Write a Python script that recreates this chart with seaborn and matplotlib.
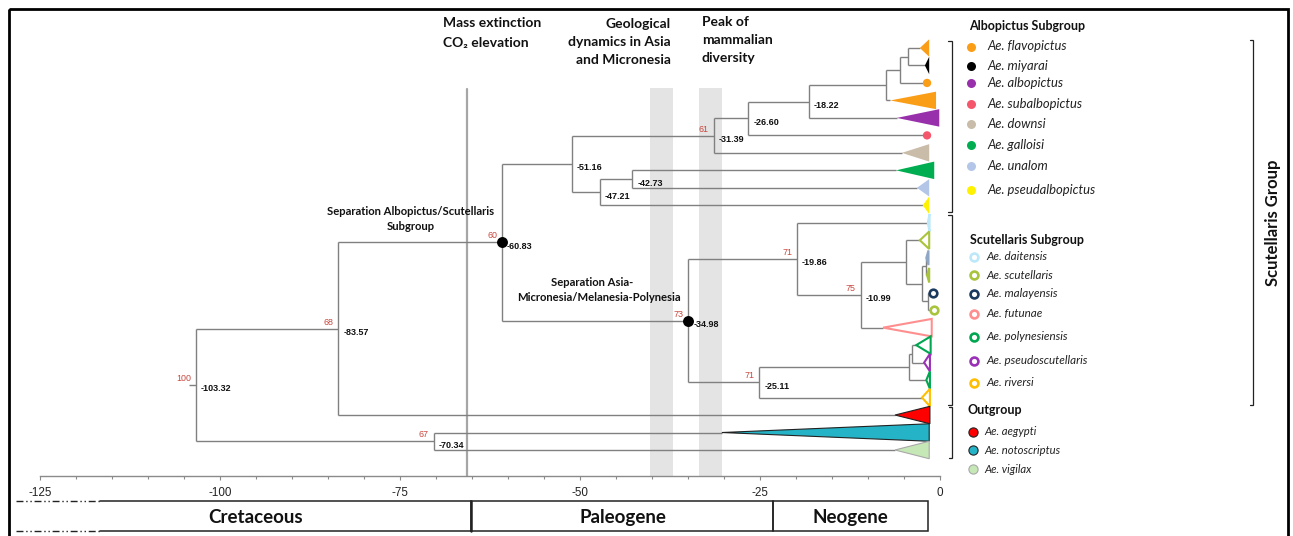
import matplotlib
matplotlib.use("Agg")
import matplotlib.pyplot as plt
import matplotlib.transforms as mtransforms
from matplotlib.patches import Polygon, Rectangle
from matplotlib.collections import LineCollection
from matplotlib.ticker import MultipleLocator
import seaborn as sns
import pandas as pd

# ---------------- data ----------------
leaf_species = ["flavopictus", "miyarai", "flavopictus", "flavopictus", "albopictus",
                "subalbopictus", "downsi", "galloisi", "unalom", "pseudalbopictus",
                "daitensis", "scutellaris", "malayensis_light", "scutellaris", "malayensis",
                "scutellaris", "futunae", "polynesiensis", "pseudoscutellaris", "polynesiensis",
                "riversi", "aegypti", "notoscriptus", "vigilax"]
leaf_shape = ["tri", "tri", "dot", "tri", "tri", "dot", "tri", "tri", "tri", "tri",
              "open", "open", "open", "open", "ring", "ring", "open", "open", "open", "open",
              "open", "tri", "tri", "tri"]
leaf_apex = [-2.8, -2.1, -1.8, -6.9, -6.0, -1.8, -5.3, -6.1, -3.2, -2.4,
             -1.7, -2.8, -1.9, -1.8, -1.0, -0.8, -7.9, -3.3, -2.2, -1.9,
             -2.5, -6.25, -30.3, -6.25]
leaf_base = [-1.5, -1.5, -1.8, -0.55, -0.1, -1.8, -1.5, -0.8, -1.5, -1.5,
             -1.45, -1.5, -1.6, -1.5, -1.0, -0.8, -1.15, -1.3, -1.4, -1.4,
             -1.4, -1.4, -1.5, -1.5]

node_name = ["n1", "n2", "n3", "n4", "n5", "n6", "n7", "n8", "n9",
             "s1", "s2", "s3", "s4", "s5", "s6", "p1", "p2", "p3", "s7",
             "a", "o1", "b", "root"]
node_age = [-4.4, -5.5, -7.5, -18.22, -26.60, -31.39, -42.73, -47.21, -51.16,
            -2.0, -1.7, -2.5, -4.7, -10.99, -19.86, -3.9, -4.3, -25.11, -34.98,
            -60.83, -70.34, -83.57, -103.32]
node_child1 = [0, "n1", "n2", "n3", "n4", "n5", 7, "n7", "n6",
               12, 14, "s1", 11, "s4", 10, 17, "p1", "p2", "s6",
               "n9", 22, "a", "b"]
node_child2 = [1, 2, 3, 4, 5, 6, 8, 9, "n8",
               13, 15, "s2", "s3", 16, "s5", 18, 19, 20, "p3",
               "s7", 23, 21, "o1"]
labelled_nodes = ["root", "b", "o1", "a", "n9", "n8", "n7", "n6", "n5", "n4",
                  "s7", "s6", "s5", "p3"]
bootstrap_nodes = ["root", "b", "o1", "a", "n6", "s7", "s6", "s5", "p3"]
bootstrap_vals = [100, 68, 67, 60, 61, 73, 71, 75, 71]
highlight_nodes = ["a", "s7"]

x_ticks = [-125, -100, -75, -50, -25, 0]
event_line = -65.7
event_bands = [(-40.3, -37.1), (-33.5, -30.3)]
periods = ["Cretaceous", "Paleogene", "Neogene"]
period_edges = [-116.7, -65.2, -23.2, -1.7]

albo_species = ["flavopictus", "miyarai", "albopictus", "subalbopictus", "downsi",
                "galloisi", "unalom", "pseudalbopictus"]
scut_species = ["daitensis", "scutellaris", "malayensis", "futunae", "polynesiensis",
                "pseudoscutellaris", "riversi"]
out_species = ["aegypti", "notoscriptus", "vigilax"]

# ---------------- style ----------------
colors = {"flavopictus": "#FA9D17", "miyarai": "#000000", "albopictus": "#9830AB",
          "subalbopictus": "#F4566B", "downsi": "#C9BCA8", "galloisi": "#00AD50",
          "unalom": "#B3C6E8", "pseudalbopictus": "#FFF200", "daitensis": "#BDE8FA",
          "scutellaris": "#A8C33C", "malayensis": "#1B3A5F", "malayensis_light": "#8FA6C4",
          "futunae": "#FF8F8F", "polynesiensis": "#00A650", "pseudoscutellaris": "#9B30B8",
          "riversi": "#FFBF00", "aegypti": "#FF0000", "notoscriptus": "#25B4C7",
          "vigilax": "#C6E8B7"}
edge_colors = {"aegypti": "#222222", "notoscriptus": "#222222", "vigilax": "#A8A8A8"}

sns.set_theme(style="white")
plt.rcParams['font.family'] = ['Lato', 'DejaVu Sans']
plt.rcParams['axes.unicode_minus'] = False

W, H = 1293, 536
fig = plt.figure(figsize=(W / 100, H / 100), dpi=100, facecolor="white")

# main tree axes: bottom spine is the time axis
ax = fig.add_axes([40 / W, (H - 476) / H, 900 / W, (476 - 8) / H])
ax.set_xlim(-125, 0)
ax.set_ylim(24.488, -2.2886)
ax.set_facecolor("none")
for s in ["left", "right", "top"]:
    ax.spines[s].set_visible(False)
ax.spines["bottom"].set_color("#8a8a8a")
ax.spines["bottom"].set_linewidth(1.0)
ax.set_xticks(x_ticks)
ax.xaxis.set_minor_locator(MultipleLocator(5))
ax.set_yticks([])
ax.tick_params(axis="x", which="both", direction="out", color="#8a8a8a", width=0.8,
               bottom=True)
ax.tick_params(axis="x", which="major", length=3, pad=5, labelsize=8.4, labelcolor="#222222")
ax.tick_params(axis="x", which="minor", length=2.5)
for lab in ax.get_xticklabels():
    lab.set_fontfamily("Liberation Sans")

# overlay axes in pixel coordinates
ov = fig.add_axes([0, 0, 1, 1])
ov.set_xlim(0, W)
ov.set_ylim(H, 0)
ov.axis("off")
blend = mtransforms.blended_transform_factory(ax.transData, ov.transData)

# ---- node positions ----
pos = {}
def get(c):
    if isinstance(c, int):
        return leaf_apex[c], float(c)
    return pos[c]
for nm, age, c1, c2 in zip(node_name, node_age, node_child1, node_child2):
    pos[nm] = (age, (get(c1)[1] + get(c2)[1]) / 2)

segs = []
for nm, age, c1, c2 in zip(node_name, node_age, node_child1, node_child2):
    y1, y2 = get(c1)[1], get(c2)[1]
    segs.append([(age, y1), (age, y2)])
    for c in (c1, c2):
        cx, cy = get(c)
        segs.append([(age, cy), (cx, cy)])
rx, ry = pos["root"]
segs.append([(rx - 1.0, ry), (rx, ry)])
ax.add_collection(LineCollection(segs, colors="#808080", linewidths=1.0, zorder=2,
                                 clip_on=False))

# ---- event line and bands ----
for a0, a1 in event_bands:
    ov.add_patch(Rectangle((a0, 88), a1 - a0, 476 - 88, transform=blend,
                           facecolor="#E4E4E4", edgecolor="none", zorder=0))
ov.plot([event_line, event_line], [89, 476], transform=blend, color="#A6A6A6", lw=1.6,
        zorder=1)
ov.set_zorder(0)
ax.set_zorder(1)

# ---- leaves ----
for i, (sp, shp, ap, bs) in enumerate(zip(leaf_species, leaf_shape, leaf_apex, leaf_base)):
    col = colors[sp]
    half = 0.42 if i in (12, 13) else 0.5
    verts = [(ap, i), (bs, i - half), (bs, i + half)]
    if shp == "tri":
        ec = edge_colors.get(sp, "none")
        ax.add_patch(Polygon(verts, closed=True, facecolor=col, edgecolor=ec,
                             lw=0.8 if ec != "none" else 0, zorder=3, clip_on=False,
                             joinstyle="miter"))
    elif shp == "open":
        ax.add_patch(Polygon(verts, closed=True, facecolor="white" if i not in (10, 12, 13) else "none",
                             edgecolor=col, lw=1.5, zorder=3, clip_on=False))

dot_df = pd.DataFrame({"t": [leaf_apex[i] for i in range(24) if leaf_shape[i] == "dot"],
                       "y": [i for i in range(24) if leaf_shape[i] == "dot"],
                       "sp": [leaf_species[i] for i in range(24) if leaf_shape[i] == "dot"]})
sns.scatterplot(data=dot_df, x="t", y="y", hue="sp", palette=colors, s=36, linewidth=0,
                legend=False, ax=ax, zorder=4, clip_on=False)
ring_df = pd.DataFrame({"t": [leaf_apex[i] for i in range(24) if leaf_shape[i] == "ring"],
                        "y": [i for i in range(24) if leaf_shape[i] == "ring"],
                        "sp": [leaf_species[i] for i in range(24) if leaf_shape[i] == "ring"]})
for _, r in ring_df.iterrows():
    ax.scatter([r.t], [r.y], s=30, facecolor="white", edgecolor=colors[r.sp], linewidth=1.9,
               zorder=4, clip_on=False)

hl_df = pd.DataFrame({"t": [pos[n][0] for n in highlight_nodes],
                      "y": [pos[n][1] for n in highlight_nodes]})
sns.scatterplot(data=hl_df, x="t", y="y", color="black", s=62, linewidth=0, legend=False,
                ax=ax, zorder=5, clip_on=False)
ax.set_xlabel("")
ax.set_ylabel("")

# ---- node labels ----
for n in labelled_nodes:
    t, y = pos[n]
    ax.annotate(f"{t:.2f}", (t, y), xytext=(5, -4), textcoords="offset pixels",
                ha="left", va="center", fontsize=6.5, fontweight="bold",
                fontfamily="Liberation Sans", color="#111111", zorder=6,
                annotation_clip=False)
for n, v in zip(bootstrap_nodes, bootstrap_vals):
    t, y = pos[n]
    ax.annotate(str(v), (t, y), xytext=(-5, 6.5), textcoords="offset pixels",
                ha="right", va="center", fontsize=6.4, fontfamily="Liberation Sans",
                color="#C9463D", zorder=6, annotation_clip=False)

# ---- annotations ----
def T(x, y, s, **kw):
    base = dict(ha="left", va="center", color="#111111", zorder=7)
    base.update(kw)
    ov.text(x, y, s, **base)

bold_big = dict(fontsize=10.0, fontweight="bold")
T(443, 23, "Mass extinction", **bold_big)
T(443, 43, "CO\u2082 elevation", **bold_big)
for k, line in enumerate(["Geological", "dynamics in Asia", "and Micronesia"]):
    T(671, 24 + 18 * k, line, ha="right", **bold_big)
for k, line in enumerate(["Peak of", "mammalian", "diversity"]):
    T(702, 22 + 18 * k, line, **bold_big)

sep = dict(fontsize=8.1, fontweight="bold", ha="center")
T(410.5, 211.5, "Separation Albopictus/Scutellaris", **sep)
T(410.5, 226, "Subgroup", **sep)
T(592, 282.5, "Separation Asia-", **sep)
T(599, 297.5, "Micronesia/Melanesia-Polynesia", **sep)

# ---- legend ----
title_kw = dict(fontsize=9.0, fontweight="bold")
T(969, 26, "Albopictus Subgroup", **title_kw)
T(970.5, 239.5, "Scutellaris Subgroup", **title_kw)
T(967.5, 410.5, "Outgroup", **title_kw)

albo_y = [46.5, 65.5, 82.7, 103.8, 124.2, 145.3, 166.2, 190]
for sp, y in zip(albo_species, albo_y):
    ov.scatter([971], [y], s=42, color=colors[sp], linewidth=0, zorder=7)
    T(987.5, y, "Ae. " + sp, fontsize=9.4, fontstyle="italic", color="#222222")

scut_y = [256.7, 275.2, 293.6, 313.6, 336.7, 360.7, 382.9]
for sp, y in zip(scut_species, scut_y):
    ov.scatter([973.5], [y], s=32, facecolor="white", edgecolor=colors[sp], linewidth=1.9,
               zorder=7)
    T(986.5, y, "Ae. " + sp, fontsize=8.4, fontstyle="italic", color="#222222")

out_y = [431.5, 450, 469.3]
for sp, y in zip(out_species, out_y):
    ov.scatter([973.3], [y], s=44, facecolor=colors[sp], edgecolor=edge_colors[sp],
               linewidth=0.8, zorder=7)
    T(984, y, "Ae. " + sp, fontsize=8.1, fontstyle="italic", color="#222222")

def bracket(x, y0, y1, tick=3.5):
    ov.plot([x - tick, x, x, x - tick], [y0, y0, y1, y1], color="#222222", lw=0.9,
            zorder=7, solid_joinstyle="miter")

bracket(951.7, 40.5, 211.7)
bracket(951.7, 214.5, 405)
bracket(952.3, 407, 457.7)
bracket(1253.3, 40, 405)
T(1273, 223, "Scutellaris Group", fontsize=12.0, fontweight="bold", rotation=90,
  ha="center")

# ---- period boxes ----
ytop, ybot = 501, 531
ov.plot([period_edges[0], period_edges[1]], [ytop, ytop], transform=blend, color="#222222", lw=1.1)
ov.plot([period_edges[0], period_edges[1]], [ybot, ybot], transform=blend, color="#222222", lw=1.1)
ov.plot([-128.3, period_edges[0]], [ytop, ytop], transform=blend, color="#222222", lw=1.0,
        linestyle=(0, (5, 2, 1, 2, 1, 2)))
ov.plot([-128.3, period_edges[0]], [ybot, ybot], transform=blend, color="#222222", lw=1.0,
        linestyle=(0, (5, 2, 1, 2, 1, 2)))
for k in range(1, 3):
    ov.add_patch(Rectangle((period_edges[k], ytop), period_edges[k + 1] - period_edges[k],
                           ybot - ytop, transform=blend, fill=False, edgecolor="#222222",
                           lw=1.1))
ov.plot([period_edges[1], period_edges[1]], [ytop, ybot], transform=blend, color="#222222", lw=1.8)
ptext_x = [-95.0, -44.0, -12.5]
for name, px in zip(periods, ptext_x):
    ov.text(px, 517.5, name, transform=blend, ha="center", va="center", fontsize=13.5,
            fontweight="bold", color="#111111")

# ---- outer frame ----
ov.add_patch(Rectangle((8.5, 8.5), 1279.5, 560, fill=False, edgecolor="black", lw=2.0,
                       clip_on=False))

fig.savefig("out.png", dpi=100, facecolor="white")
